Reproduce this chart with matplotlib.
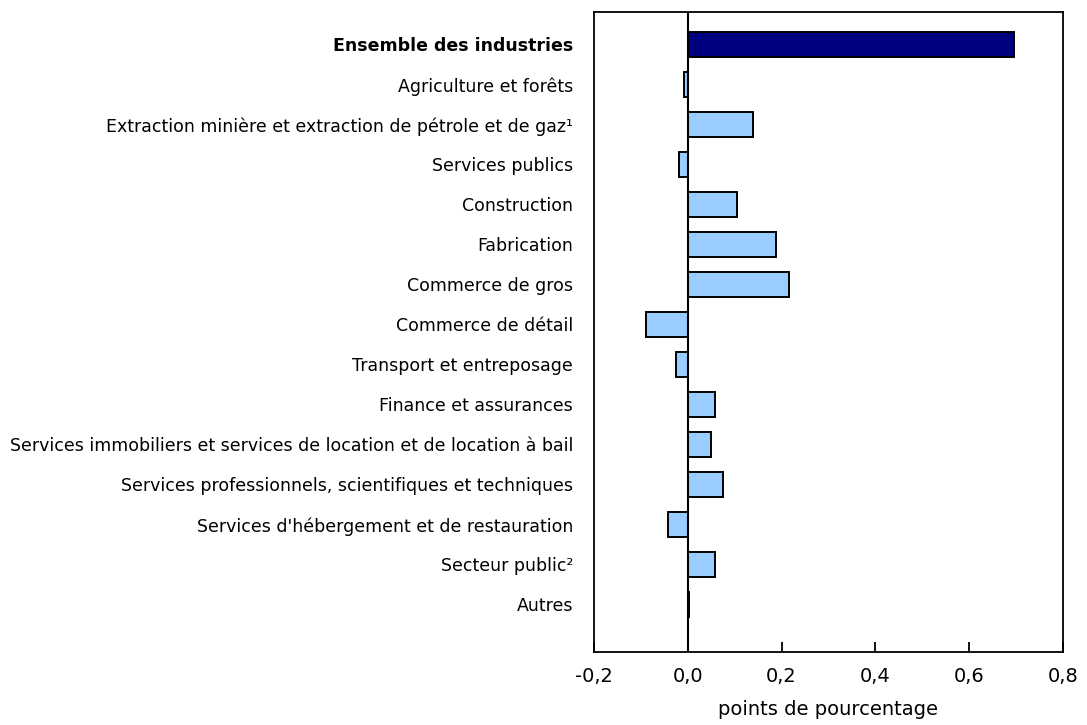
import matplotlib
matplotlib.use("Agg")
import matplotlib.pyplot as plt

categories = [
    "Ensemble des industries",
    "Agriculture et forêts",
    "Extraction minière et extraction de pétrole et de gaz¹",
    "Services publics",
    "Construction",
    "Fabrication",
    "Commerce de gros",
    "Commerce de détail",
    "Transport et entreposage",
    "Finance et assurances",
    "Services immobiliers et services de location et de location à bail",
    "Services professionnels, scientifiques et techniques",
    "Services d'hébergement et de restauration",
    "Secteur public²",
    "Autres",
]
values = [0.695, -0.008, 0.138, -0.018, 0.105, 0.189, 0.216, -0.090,
          -0.026, 0.057, 0.049, 0.074, -0.043, 0.057, 0.002]
xticks = [-0.2, 0.0, 0.2, 0.4, 0.6, 0.8]
xticklabels = ["-0,2", "0,0", "0,2", "0,4", "0,6", "0,8"]
xlabel = "points de pourcentage"

plt.rcParams['font.family'] = ['DejaVu Sans']

fig = plt.figure(figsize=(10.87, 7.25), dpi=100)
ax = fig.add_axes([594/1087, 1 - 652/725, (1063-594)/1087, (652-12)/725])

colors = ["#000080"] + ["#99CCFF"] * (len(values) - 1)
pos = list(range(len(categories)))
ax.barh(pos, values, height=0.61, color=colors, edgecolor="black", linewidth=1.4, zorder=3)
ax.axvline(0, color="black", linewidth=1.5, zorder=4)

ax.set_ylim(15.19, -0.81)
ax.set_xlim(-0.2, 0.8)
ax.set_yticks(pos)
ax.set_yticklabels(categories, fontsize=12.5)
for lbl in ax.get_yticklabels():
    if lbl.get_text() == "Ensemble des industries":
        lbl.set_fontweight("bold")
ax.tick_params(axis="y", length=0, pad=15)
ax.set_xticks(xticks)
ax.set_xticklabels(xticklabels, fontsize=14)
ax.tick_params(axis="x", direction="in", length=7, width=1.3, pad=11)
ax.set_xlabel(xlabel, fontsize=14, labelpad=10)
for s in ax.spines.values():
    s.set_linewidth(1.3)

fig.savefig("out.png", dpi=100)
